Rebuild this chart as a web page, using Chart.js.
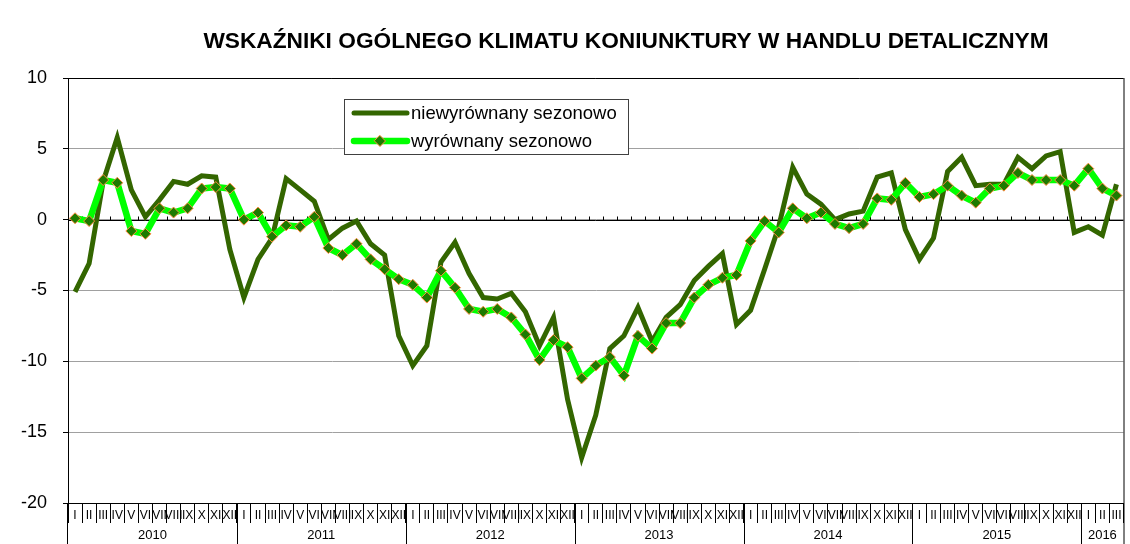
<!DOCTYPE html>
<html>
<head>
<meta charset="utf-8">
<script src="https://cdn.jsdelivr.net/npm/chart.js@4.4.1/dist/chart.umd.min.js"></script>
<style>
  html, body { margin: 0; padding: 0; background: #fff; }
  #wrap { width: 1130px; height: 544px; }
</style>
</head>
<body>
<div id="wrap"><canvas id="chart"></canvas></div>
<script>
const months = ['I', 'II', 'III', 'IV', 'V', 'VI', 'VII', 'VIII', 'IX', 'X', 'XI', 'XII'];
const years = ['2010', '2011', '2012', '2013', '2014', '2015', '2016'];
const yTicks = [10, 5, 0, -5, -10, -15, -20];

// niewyrównany sezonowo, I 2010 - III 2016
const unadjusted = [
  -5.1, -3.1, 2.7, 5.8, 2.1, 0.2, 1.4, 2.7, 2.5, 3.1, 3.0, -2.1,
  -5.5, -2.8, -1.3, 2.9, 2.1, 1.3, -1.4, -0.6, -0.1, -1.7, -2.5, -8.2,
  -10.3, -8.9, -3.0, -1.6, -3.8, -5.5, -5.6, -5.2, -6.5, -8.9, -6.9, -12.7,
  -16.8, -13.8, -9.1, -8.2, -6.2, -8.6, -6.9, -6.0, -4.3, -3.3, -2.4, -7.4,
  -6.4, -3.5, -0.5, 3.7, 1.8, 1.1, 0.0, 0.4, 0.6, 3.0, 3.3, -0.7,
  -2.8, -1.3, 3.4, 4.4, 2.4, 2.5, 2.5, 4.4, 3.6, 4.5, 4.8, -0.9,
  -0.5, -1.1, 2.5
];

// wyrównany sezonowo
const adjusted = [
  0.1, -0.1, 2.8, 2.6, -0.8, -1.0, 0.8, 0.5, 0.8, 2.2, 2.3, 2.2,
  0.0, 0.5, -1.2, -0.4, -0.5, 0.2, -2.0, -2.5, -1.7, -2.8, -3.5, -4.2,
  -4.6, -5.5, -3.6, -4.8, -6.3, -6.5, -6.3, -6.9, -8.1, -9.9, -8.5, -9.0,
  -11.2, -10.3, -9.7, -11.0, -8.2, -9.1, -7.3, -7.3, -5.5, -4.6, -4.1, -3.9,
  -1.5, -0.1, -0.9, 0.8, 0.1, 0.5, -0.3, -0.6, -0.3, 1.5, 1.4, 2.6,
  1.6, 1.8, 2.4, 1.7, 1.2, 2.2, 2.4, 3.3, 2.8, 2.8, 2.8, 2.4,
  3.6, 2.2, 1.7
];

const labels = unadjusted.map((v, i) => months[i % 12]);
const FONT = 'Arial, "Liberation Sans", sans-serif';

const extras = {
  id: 'extras',
  beforeDatasetsDraw(chart) {
    const { ctx, chartArea: a, scales: { x, y } } = chart;
    const y0 = Math.round(y.getPixelForValue(0)) + 0.5;
    ctx.save();
    ctx.strokeStyle = '#000';
    ctx.lineWidth = 1;
    ctx.beginPath();
    ctx.moveTo(a.left, y0);
    ctx.lineTo(a.right, y0);
    for (let i = 1; i < labels.length; i++) {
      const bx = Math.round((x.getPixelForValue(i - 1) + x.getPixelForValue(i)) / 2) + 0.5;
      ctx.moveTo(bx, y0);
      ctx.lineTo(bx, y0 - 4);
    }
    ctx.stroke();
    ctx.restore();
  },
  afterDraw(chart) {
    const { ctx, chartArea: a, scales: { x }, height } = chart;
    ctx.save();

    // frame
    ctx.strokeStyle = '#000';
    ctx.lineWidth = 1;
    ctx.beginPath();
    ctx.moveTo(a.left, a.top + 0.5);
    ctx.lineTo(a.right, a.top + 0.5);
    ctx.moveTo(a.right + 0.5, a.top);
    ctx.lineTo(a.right + 0.5, height);
    ctx.moveTo(a.left - 0.5, a.bottom);
    ctx.lineTo(a.left - 0.5, height);
    // year separators
    for (let k = 1; k < years.length; k++) {
      const i = k * 12;
      const bx = Math.round((x.getPixelForValue(i - 1) + x.getPixelForValue(i)) / 2) + 0.5;
      ctx.moveTo(bx, a.bottom);
      ctx.lineTo(bx, height);
    }
    ctx.stroke();

    // year labels
    ctx.fillStyle = '#000';
    ctx.font = '13px ' + FONT;
    ctx.textAlign = 'center';
    ctx.textBaseline = 'middle';
    years.forEach((yr, k) => {
      const first = k * 12;
      const last = Math.min(first + 11, labels.length - 1);
      const cx = (x.getPixelForValue(first) + x.getPixelForValue(last)) / 2;
      ctx.fillText(yr, cx, 535);
    });

    // title
    ctx.font = 'bold 22.7px ' + FONT;
    ctx.fillText('WSKAŹNIKI OGÓLNEGO KLIMATU KONIUNKTURY W HANDLU DETALICZNYM', 626, 42);

    // legend
    const lx = 344, ly = 99, lw = 284, lh = 55;
    ctx.fillStyle = '#fff';
    ctx.fillRect(lx, ly, lw, lh);
    ctx.strokeStyle = '#404040';
    ctx.strokeRect(lx + 0.5, ly + 0.5, lw, lh);
    ctx.font = '18.5px ' + FONT;
    ctx.textAlign = 'left';
    chart.data.datasets.forEach((ds, k) => {
      const ry = ly + 14 + k * 28;
      ctx.strokeStyle = ds.borderColor;
      ctx.lineWidth = ds.borderWidth;
      ctx.lineCap = 'round';
      ctx.beginPath();
      ctx.moveTo(354, ry);
      ctx.lineTo(407, ry);
      ctx.stroke();
      if (ds.pointRadius > 0) {
        const r = ds.pointRadius;
        ctx.beginPath();
        ctx.moveTo(380, ry - r);
        ctx.lineTo(380 + r, ry);
        ctx.lineTo(380, ry + r);
        ctx.lineTo(380 - r, ry);
        ctx.closePath();
        ctx.fillStyle = ds.pointBackgroundColor;
        ctx.fill();
        ctx.lineWidth = ds.pointBorderWidth;
        ctx.strokeStyle = ds.pointBorderColor;
        ctx.stroke();
      }
      ctx.fillStyle = '#000';
      ctx.fillText(ds.label, 411, ry + 1);
    });
    ctx.restore();
  }
};

new Chart(document.getElementById('chart'), {
  type: 'line',
  data: {
    labels: labels,
    datasets: [{
      label: 'niewyrównany sezonowo',
      data: unadjusted,
      borderColor: '#336600',
      borderWidth: 5,
      pointRadius: 0,
      tension: 0,
      order: 2
    }, {
      label: 'wyrównany sezonowo',
      data: adjusted,
      borderColor: '#00ff00',
      borderWidth: 6.5,
      pointStyle: 'rectRot',
      pointRadius: 5.5,
      pointBackgroundColor: '#1d7a00',
      pointBorderColor: '#ff8a3d',
      pointBorderWidth: 1,
      tension: 0,
      order: 1
    }]
  },
  options: {
    responsive: true,
    maintainAspectRatio: false,
    animation: false,
    layout: { padding: { top: 78, right: 4, left: 0, bottom: 0 } },
    plugins: {
      legend: { display: false },
      title: { display: false },
      tooltip: { enabled: false }
    },
    scales: {
      x: {
        offset: true,
        grid: { offset: true, drawOnChartArea: false, tickLength: 20, color: '#000' },
        border: { color: '#000', width: 1 },
        ticks: {
          autoSkip: false, maxRotation: 0, minRotation: 0, padding: -15,
          color: '#000', font: { family: FONT, size: 12 }
        },
        afterFit(s) { s.height = 41; }
      },
      y: {
        min: -20,
        max: 10,
        afterBuildTicks(s) { s.ticks = yTicks.map(v => ({ value: v })); },
        ticks: { padding: 16, color: '#000', font: { family: FONT, size: 18 } },
        grid: { color: '#a0a0a0', tickColor: '#000', tickLength: 5, lineWidth: 1 },
        border: { color: '#000', width: 1 },
        afterFit(s) { s.width = 68; }
      }
    }
  },
  plugins: [extras]
});
</script>
</body>
</html>
